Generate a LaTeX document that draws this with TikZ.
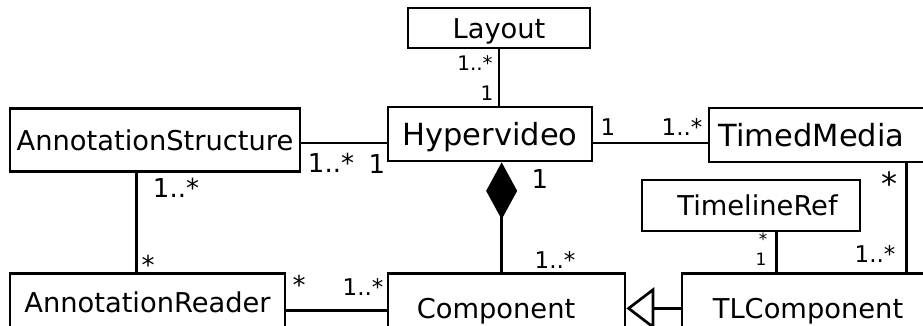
\documentclass[tikz,border=0pt]{standalone}
\usepackage{fontspec}
\setmainfont{DejaVu Sans}
\usetikzlibrary{arrows.meta,calc}
\tikzset{
    cls/.style={draw, rectangle, line width=2.7pt, inner sep=0pt, text height=20pt, text depth=0pt, font=\fontsize{27.3}{32}\selectfont},
    bigcls/.style={cls, text height=22pt, font=\fontsize{30.5}{36}\selectfont},
    assoc/.style={line width=2.7pt},
    mult/.style={inner sep=0pt, font=\fontsize{26}{30}\selectfont},
    multmid/.style={inner sep=0pt, font=\fontsize{23}{27}\selectfont},
    multsmall/.style={inner sep=0pt, font=\fontsize{20}{24}\selectfont},
    multtiny/.style={inner sep=0pt, font=\fontsize{17}{20}\selectfont},
    multhuge/.style={inner sep=0pt, font=\fontsize{32}{36}\selectfont}
}
\begin{document}
\begin{tikzpicture}[x=1pt, y=-1pt]
        \useasboundingbox (0,0) rectangle (923,325);
        \clip (0,0) rectangle (923,325);
        \node [cls, minimum width=182pt, minimum height=40pt] (layout) at (499,28) {Layout};
        \node [bigcls, minimum width=204pt, minimum height=54pt] (hyper) at (490,134) {Hypervideo};
        \node [cls, minimum width=290pt, minimum height=63pt] (annstruct) at (155,140) {AnnotationStructure};
        \node [bigcls, minimum width=231pt, minimum height=54pt] (timedmedia) at (824.5,135) {TimedMedia\hspace*{26pt}};
        \node [cls, minimum width=218pt, minimum height=51pt] (timeref) at (751,205.5) {\hspace*{13pt}TimelineRef};
        \node [cls, minimum width=275pt, minimum height=58pt, anchor=north] (areader) at (147.5,272) {AnnotationReader};
        \node [cls, minimum width=237pt, minimum height=70pt, anchor=north] (comp) at (506.5,272) {Component\hspace*{21pt}};
        \node [cls, minimum width=252pt, minimum height=70pt, anchor=north] (tlcomp) at (808,272) {TLComponent};

        \coordinate (hvw) at ($(hyper.west)+(0,9)$);
        \coordinate (hve) at ($(hyper.east)+(0,9)$);
        \coordinate (compx) at ($(comp.north west)+(115,0)$);
        \coordinate (are) at ($(areader.east)+(0,8)$);
        \coordinate (asx) at ($(annstruct.south west)+(128,0)$);
        \coordinate (trx) at ($(timeref.south west)+(136,0)$);
        \coordinate (tmx) at ($(timedmedia.south west)+(199,0)$);

        \draw [assoc] (layout.south) -- (layout.south |- hyper.north);
        \draw [assoc] (annstruct.east |- hvw) -- (hvw);
        \draw [assoc] (hve) -- (hve -| timedmedia.west);
        \draw [assoc, -{Diamond[length=57pt, width=31pt]}] (compx) -- (compx |- hyper.south);
        \draw [assoc, -{Triangle[open, length=28pt, width=42pt]}] (tlcomp.west) -- (comp.east);
        \draw [assoc] (are) -- (are -| comp.west);
        \draw [assoc] (asx) -- (asx |- areader.north);
        \draw [assoc] (trx) -- (trx |- tlcomp.north);
        \draw [assoc] (tmx) -- (tmx |- tlcomp.north);

        \node [multsmall, anchor=base] (laym) at (475,70) {1..*};
        \node [multsmall, anchor=base] (hyperlaym) at (487,100) {1};
        \node [mult, anchor=base] (asm) at (331,172) {1..*};
        \node [mult, anchor=base] (hyperasm) at (377,173) {1};
        \node [multmid, anchor=base] (hypertmm) at (608,135) {1};
        \node [multmid, anchor=base] (tmm) at (682,135) {1..*};
        \node [mult, anchor=base] (hypercompm) at (540,188) {1};
        \node [multmid, anchor=base] (comphyperm) at (555,268) {1..*};
        \node [mult, anchor=north] (arm) at (299,275) {*};
        \node [multmid, anchor=base] (comparm) at (363,295) {1..*};
        \node [mult, anchor=base] (asarm) at (176,197) {1..*};
        \node [mult, anchor=north] (arasm) at (148,255) {*};
        \node [multtiny, anchor=north] (trm) at (763,233) {*};
        \node [multtiny, anchor=base] (tltrm) at (761,265) {1};
        \node [multhuge, anchor=north] (tmtlm) at (889,172) {*};
        \node [multmid, anchor=base] (tltmm) at (875,262) {1..*};
    \end{tikzpicture}
\end{document}
